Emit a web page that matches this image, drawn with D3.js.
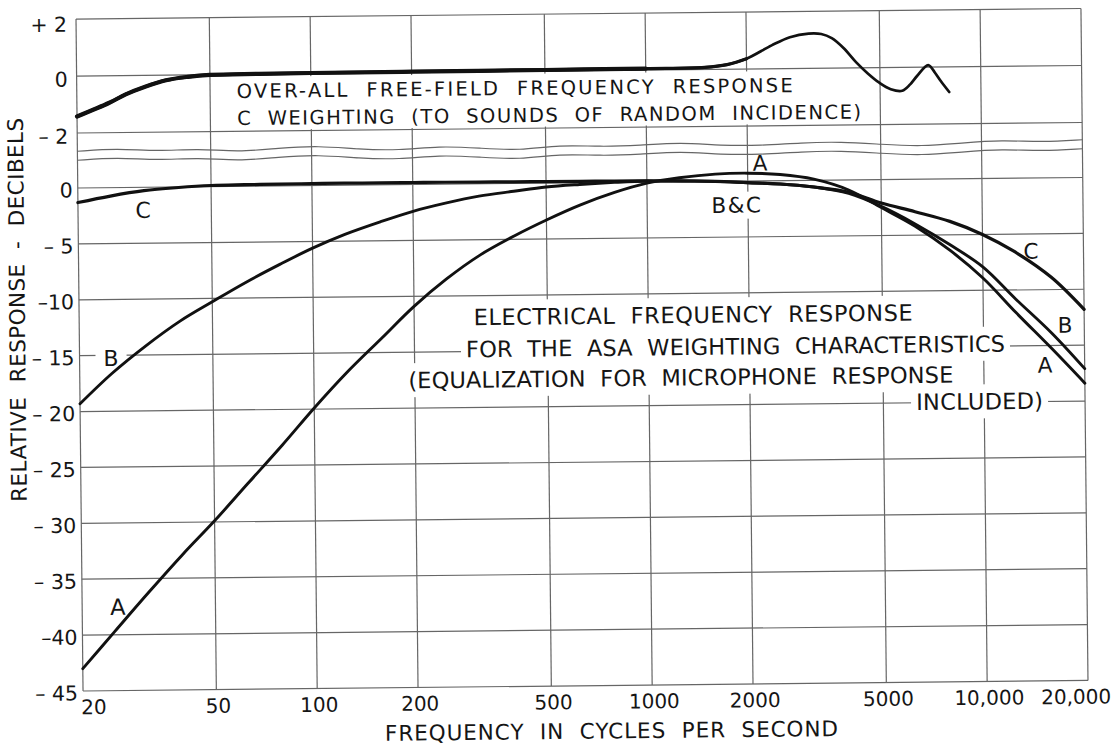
<!DOCTYPE html>
<html>
<head>
<meta charset="utf-8">
<script src="https://cdn.jsdelivr.net/npm/d3@7"></script>
<style>
  html, body { margin: 0; padding: 0; background: #fff; }
  svg { display: block; }
  text { font-family: "DejaVu Sans", "Liberation Sans", sans-serif; fill: #151515; white-space: pre; }
</style>
</head>
<body>
<svg id="chart" width="1118" height="746"></svg>
<script>
// ---- frequency axis ----
const freqTicks = [20, 50, 100, 200, 500, 1000, 2000, 5000, 10000, 20000];
const freqTickLabels = ["20", "50", "100", "200", "500", "1000", "2000", "5000", "10,000", "20,000"];

// ---- upper panel: over-all free-field response (dB) ----
const upperTicks = [2, 0, -2];
const upperTickLabels = ["+ 2", "0", "– 2"];

// ---- lower panel: electrical response (dB) ----
const lowerTicks = [0, -5, -10, -15, -20, -25, -30, -35, -40, -45];
const lowerTickLabels = ["0", "– 5", "–10", "– 15", "– 20", "– 25", "– 30", "– 35", "–40", "– 45"];

// Over-all free-field response, C weighting, random incidence
const freeFieldFreq = [20, 25, 28, 32, 37, 43, 50, 70, 100, 200, 500, 1000, 1500, 1750, 2000, 2380, 2700, 3070, 3350, 3600, 3900, 4245, 4600, 4975, 5380, 5820, 6150, 6460, 6970, 7300, 7600, 8040];
const freeFieldDb   = [-1.42, -0.95, -0.66, -0.4, -0.18, -0.07, -0.01, 0.01, 0.02, 0.03, 0.04, 0.05, 0.07, 0.16, 0.36, 0.82, 1.1, 1.22, 1.2, 1.05, 0.7, 0.2, -0.2, -0.53, -0.76, -0.82, -0.6, -0.3, 0.07, -0.2, -0.5, -0.88];

// Electrical response of the A, B and C weighting networks
const weightFreq = [20, 25, 31.5, 40, 50, 63, 80, 100, 125, 160, 200, 250, 315, 400, 500, 630, 800, 1000, 1250, 1600, 2000, 2500, 3150, 4000, 5000, 6300, 8000, 10000, 12500, 16000, 20000];
const weightA = [-43, -39.7, -36.3, -32.9, -29.9, -26.6, -23.2, -19.9, -16.8, -13.7, -10.9, -8.5, -6.4, -4.7, -3.3, -2.0, -0.9, -0.1, 0.35, 0.65, 0.7, 0.55, 0.1, -0.9, -2.5, -4.2, -6.4, -8.9, -12.0, -15.3, -18.4];
const weightB = [-19.3, -16.6, -14.2, -12.0, -10.3, -8.6, -7.0, -5.6, -4.4, -3.3, -2.4, -1.7, -1.1, -0.7, -0.35, -0.15, 0.0, 0.1, 0.1, 0.0, -0.15, -0.3, -0.6, -1.2, -2.4, -4.0, -5.9, -7.9, -10.8, -13.9, -17.1];
const weightC = [-1.3, -0.75, -0.3, -0.05, 0.1, 0.14, 0.16, 0.18, 0.18, 0.18, 0.18, 0.17, 0.16, 0.15, 0.14, 0.13, 0.12, 0.1, 0.05, 0.0, -0.15, -0.3, -0.6, -1.1, -2.1, -2.9, -3.8, -5.0, -6.6, -8.9, -11.8];

// hand-drawn break between the two panels (vertical wobble, px)
const breakWave = [0, -2.5, 1, -1.5, 2.5, -1, -3, 1, 2.5, -1.5, 1, 4, -1.5, 1, 0, -2.5, 1, 1.5, -1, -1.5, 1.5, 4, 1, -1.5, 1, -1];

// ---- layout ----
const svg = d3.select("#chart");
const plotLeft = 79.5, plotRight = 1084.5;
const x = d3.scaleLog().domain([20, 20000]).range([plotLeft, plotRight]);
const yUp = d3.scaleLinear().domain([2, -2]).range([13.75, 127.75]);
const yLow = d3.scaleLinear().domain([0, -45]).range([182.75, 685.75]);
const plotTop = yUp(2), plotBottom = yLow(-45);
const breakTop = 146, breakBottom = 155;

// the whole sheet sits slightly askew
const root = svg.append("g").attr("transform", "rotate(-0.6 582 350)");

const gridColor = "#666";
const grid = root.append("g").attr("stroke", gridColor).attr("stroke-width", 1.2).attr("fill", "none");

// vertical grid
grid.selectAll("line.v").data(freqTicks).join("line")
  .attr("x1", d => x(d)).attr("x2", d => x(d))
  .attr("y1", plotTop).attr("y2", plotBottom);

// horizontal grid, upper panel
grid.selectAll("line.hu").data(upperTicks).join("line")
  .attr("x1", plotLeft).attr("x2", plotRight)
  .attr("y1", d => yUp(d)).attr("y2", d => yUp(d));

// horizontal grid, lower panel
grid.selectAll("line.hl").data(lowerTicks).join("line")
  .attr("x1", plotLeft).attr("x2", plotRight)
  .attr("y1", d => yLow(d)).attr("y2", d => yLow(d));

// wavy break lines
const waveX = d3.scaleLinear().domain([0, breakWave.length - 1]).range([plotLeft, plotRight]);
const waveLine = base => d3.line()
  .x((d, i) => waveX(i))
  .y(d => base + d)
  .curve(d3.curveBasis)(breakWave);
grid.append("path").attr("d", waveLine(breakTop));
grid.append("path").attr("d", waveLine(breakBottom));

// ---- white patches behind lettering ----
const patches = root.append("g");
const lettering = root.append("g");

function label(txt, px, py, size, opts = {}) {
  const t = lettering.append("text")
    .attr("x", px).attr("y", py).attr("dy", "0.36em")
    .attr("font-size", size)
    .attr("text-anchor", opts.anchor || "start")
    .text(txt);
  if (opts.len) t.attr("textLength", opts.len).attr("lengthAdjust", "spacing");
  if (opts.spacing) t.attr("letter-spacing", opts.spacing);
  return t;
}
function patch(node, padX, padY) {
  const b = node.node().getBBox();
  patches.append("rect")
    .attr("x", b.x - padX).attr("y", b.y - padY)
    .attr("width", b.width + 2 * padX).attr("height", b.height + 2 * padY)
    .attr("fill", "#fff");
}

// upper panel caption (box spans from the 0 line to the -2 line)
label("OVER-ALL  FREE-FIELD  FREQUENCY  RESPONSE", 239.5, 87.3, 19.5, { len: 556 });
label("C  WEIGHTING  (TO  SOUNDS  OF  RANDOM  INCIDENCE)", 239.5, 114.5, 19.5, { len: 624 });
patches.append("rect")
  .attr("x", 232).attr("y", yUp(0) + 2.5)
  .attr("width", 872 - 232).attr("height", yUp(-2) - yUp(0) - 4)
  .attr("fill", "#fff");

// lower panel caption, one patch per line
const lowerCaption = [
  ["ELECTRICAL  FREQUENCY  RESPONSE", 474, 316, 439],
  ["FOR  THE  ASA  WEIGHTING  CHARACTERISTICS", 466, 348, 539],
  ["(EQUALIZATION  FOR  MICROPHONE  RESPONSE", 408, 378.5, 545],
  ["INCLUDED)", 915.5, 405.5, 127]
];
lowerCaption.forEach(([txt, px, py, len]) => {
  const t = label(txt, px, py, 22.5, { len });
  const b = t.node().getBBox();
  patches.append("rect")
    .attr("x", b.x - 5).attr("y", py - 17)
    .attr("width", b.width + 10).attr("height", 34)
    .attr("fill", "#fff");
});

// curve identifiers
const labB = label("B", 111, 353, 22, { anchor: "middle" });
patch(labB, 8, 2);
const labBC = label("B&C", 738.5, 206.6, 21.5, { anchor: "middle", spacing: 1.5 });
patch(labBC, 2, 1);
label("A", 762, 164.9, 21.5, { anchor: "middle" });
label("C", 144.5, 205.4, 22, { anchor: "middle" });
label("A", 115.3, 602, 22.5, { anchor: "middle" });
label("C", 1032, 255.7, 21.5, { anchor: "middle" });
label("B", 1065.3, 330, 21.5, { anchor: "middle" });
label("A", 1044.8, 369.8, 21.5, { anchor: "middle" });

// ---- tick labels ----
upperTicks.forEach((v, i) => {
  label(upperTickLabels[i], plotLeft - 9, yUp(v) + (v === 2 ? 5 : 3), 20.5, { anchor: "end" });
});
lowerTicks.forEach((v, i) => {
  label(lowerTickLabels[i], plotLeft - 5, yLow(v) + 2, 20.5, { anchor: "end" });
});
freqTicks.forEach((f, i) => {
  const last = freqTicks.length - 1;
  if (i === 0) label(freqTickLabels[i], plotLeft - 2, plotBottom + 16, 20, { anchor: "start" });
  else if (i === last) label(freqTickLabels[i], plotRight + 23, plotBottom + 16, 20, { anchor: "end" });
  else label(freqTickLabels[i], x(f) + 2, plotBottom + 16, 20, { anchor: "middle" });
});

// ---- axis titles ----
label("FREQUENCY  IN  CYCLES  PER  SECOND", 381, 731, 21.5, { len: 453 });
lettering.append("text")
  .attr("transform", "translate(17.5,304) rotate(-90)")
  .attr("text-anchor", "middle").attr("dy", "0.36em")
  .attr("font-size", 21.5)
  .attr("textLength", 384).attr("lengthAdjust", "spacing")
  .text("RELATIVE  RESPONSE  -  DECIBELS");

// ---- response curves ----
const smooth = d3.curveCatmullRom.alpha(0.5);
const curves = root.append("g").attr("fill", "none").attr("stroke", "#111")
  .attr("stroke-linecap", "round").attr("stroke-linejoin", "round");

const lowerLine = vals => d3.line()
  .x((d, i) => x(weightFreq[i]))
  .y(d => yLow(d))
  .curve(smooth)(vals);

curves.append("path").attr("d", lowerLine(weightC)).attr("stroke-width", 3.2);
curves.append("path").attr("d", lowerLine(weightB)).attr("stroke-width", 2.9);
curves.append("path").attr("d", lowerLine(weightA)).attr("stroke-width", 2.9);

const ffPoints = freeFieldFreq.map((f, i) => [f, freeFieldDb[i]]);
const upperLine = d3.line()
  .x(d => x(d[0]))
  .y(d => yUp(d[1]))
  .curve(smooth);
curves.append("path").attr("d", upperLine(ffPoints)).attr("stroke-width", 2.7);
curves.append("path").attr("d", upperLine(ffPoints.filter(d => d[0] <= 2000))).attr("stroke-width", 3.3);
curves.append("path").attr("d", upperLine(ffPoints.filter(d => d[0] <= 1000))).attr("stroke-width", 4.2);
</script>
</body>
</html>
